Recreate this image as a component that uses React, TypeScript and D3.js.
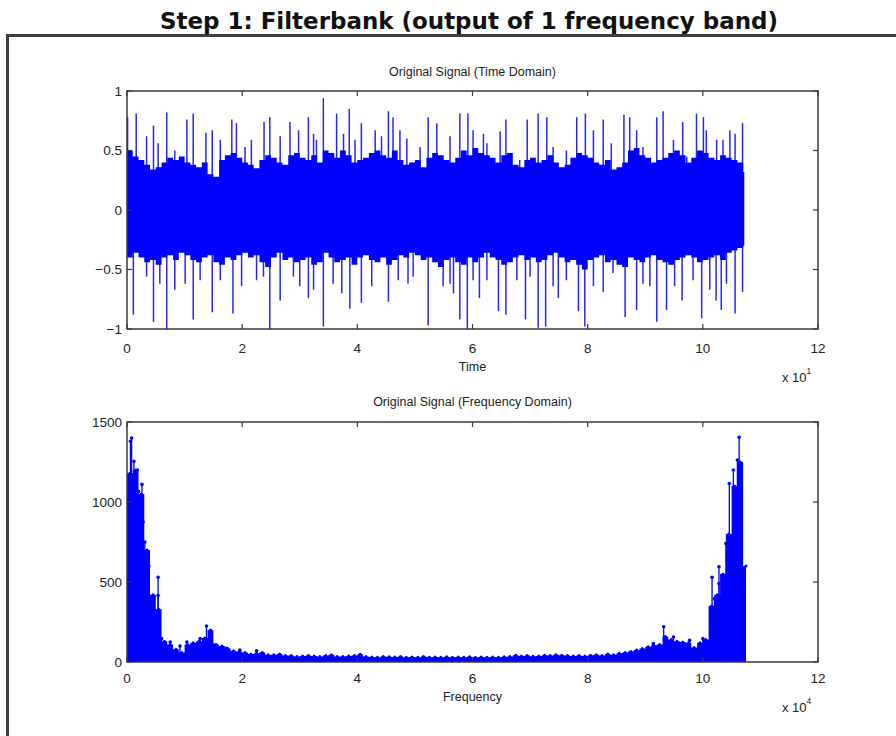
import React from "react";
import * as d3 from "d3";

// ---- Time-domain signal (x 10^1) ----
const timeStep = 0.1;
const timeEnd = 10.72;
// dense core of the waveform, per 0.1 time bin
const timeUpper = [
  0.5, 0.45, 0.42, 0.38, 0.34, 0.36, 0.4, 0.44, 0.42, 0.45,
  0.4, 0.38, 0.36, 0.4, 0.3, 0.28, 0.42, 0.46, 0.48, 0.44,
  0.4, 0.38, 0.35, 0.42, 0.46, 0.44, 0.4, 0.38, 0.46, 0.48,
  0.44, 0.42, 0.46, 0.4, 0.5, 0.48, 0.44, 0.5, 0.46, 0.4,
  0.42, 0.44, 0.48, 0.5, 0.46, 0.44, 0.5, 0.42, 0.38, 0.4,
  0.42, 0.36, 0.44, 0.48, 0.46, 0.42, 0.4, 0.44, 0.5, 0.46,
  0.52, 0.48, 0.46, 0.44, 0.4, 0.46, 0.48, 0.38, 0.36, 0.42,
  0.44, 0.4, 0.42, 0.46, 0.4, 0.36, 0.38, 0.44, 0.48, 0.46,
  0.44, 0.4, 0.38, 0.42, 0.34, 0.36, 0.4, 0.5, 0.52, 0.46,
  0.44, 0.4, 0.42, 0.44, 0.48, 0.5, 0.46, 0.4, 0.44, 0.5,
  0.48, 0.44, 0.42, 0.46, 0.44, 0.42, 0.4, 0.32,
];
const timeLower = [
  -0.4, -0.36, -0.4, -0.44, -0.42, -0.46, -0.4, -0.38, -0.42, -0.36,
  -0.38, -0.42, -0.44, -0.4, -0.38, -0.44, -0.46, -0.4, -0.42, -0.38,
  -0.36, -0.4, -0.38, -0.44, -0.48, -0.4, -0.36, -0.42, -0.4, -0.44,
  -0.42, -0.4, -0.46, -0.44, -0.36, -0.4, -0.44, -0.42, -0.4, -0.46,
  -0.4, -0.38, -0.42, -0.44, -0.4, -0.46, -0.42, -0.38, -0.4, -0.36,
  -0.38, -0.42, -0.4, -0.44, -0.48, -0.42, -0.4, -0.44, -0.46, -0.4,
  -0.44, -0.4, -0.36, -0.4, -0.42, -0.46, -0.44, -0.4, -0.38, -0.42,
  -0.4, -0.44, -0.42, -0.38, -0.36, -0.4, -0.44, -0.42, -0.46, -0.5,
  -0.42, -0.4, -0.38, -0.44, -0.42, -0.46, -0.48, -0.4, -0.42, -0.44,
  -0.4, -0.38, -0.42, -0.44, -0.46, -0.42, -0.4, -0.38, -0.4, -0.44,
  -0.42, -0.4, -0.38, -0.42, -0.36, -0.34, -0.32, -0.3,
];
// individual excursions beyond the core: [time, amplitude]
const spikesUp: [number, number][] = [
  [0.01, 0.78], [0.16, 0.81], [0.34, 0.62], [0.46, 0.71], [0.54, 0.56], [0.69, 0.82],
  [0.83, 0.5], [1.04, 0.76], [1.15, 0.81], [1.37, 0.65], [1.48, 0.67], [1.62, 0.59],
  [1.82, 0.76], [1.9, 0.73], [2.05, 0.53], [2.16, 0.59], [2.38, 0.74], [2.48, 0.78],
  [2.66, 0.62], [2.83, 0.74], [2.98, 0.67], [3.15, 0.78], [3.24, 0.64], [3.29, 0.59],
  [3.41, 0.94], [3.64, 0.81], [3.76, 0.64], [3.86, 0.85], [3.96, 0.59], [4.07, 0.73],
  [4.31, 0.67], [4.42, 0.62], [4.54, 0.83], [4.62, 0.78], [4.74, 0.67], [4.86, 0.6],
  [5.09, 0.53], [5.23, 0.78], [5.38, 0.73], [5.61, 0.62], [5.78, 0.81], [5.92, 0.81],
  [6.01, 0.67], [6.19, 0.64], [6.25, 0.56], [6.48, 0.66], [6.58, 0.76], [6.82, 0.42],
  [6.95, 0.76], [7.14, 0.81], [7.29, 0.78], [7.4, 0.53], [7.63, 0.5], [7.81, 0.78],
  [7.96, 0.81], [8.1, 0.67], [8.27, 0.76], [8.41, 0.56], [8.63, 0.8], [8.73, 0.78],
  [8.85, 0.67], [8.96, 0.53], [9.2, 0.78], [9.31, 0.83], [9.49, 0.59], [9.65, 0.74],
  [9.72, 0.45], [9.89, 0.81], [10.01, 0.78], [10.06, 0.67], [10.24, 0.59], [10.35, 0.59],
  [10.47, 0.67], [10.56, 0.64], [10.69, 0.73],
];
const spikesDown: [number, number][] = [
  [0.11, -0.88], [0.34, -0.56], [0.46, -0.94], [0.57, -0.62], [0.69, -1.0], [0.83, -0.67],
  [1.01, -0.62], [1.15, -0.92], [1.27, -0.59], [1.48, -0.86], [1.62, -0.59], [1.84, -0.87],
  [1.99, -0.64], [2.25, -0.59], [2.37, -0.56], [2.48, -1.0], [2.66, -0.76], [2.89, -0.56],
  [3.0, -0.64], [3.15, -0.74], [3.24, -0.67], [3.41, -0.98], [3.58, -0.62], [3.73, -0.7],
  [3.87, -0.83], [4.07, -0.78], [4.25, -0.64], [4.54, -0.77], [4.71, -0.59], [4.88, -0.62],
  [4.97, -0.56], [5.23, -0.97], [5.49, -0.64], [5.61, -0.62], [5.67, -0.7], [5.78, -0.92],
  [5.91, -1.0], [6.01, -0.59], [6.12, -0.74], [6.25, -0.59], [6.45, -0.85], [6.58, -0.88],
  [6.77, -0.59], [6.92, -0.92], [7.0, -0.56], [7.14, -0.99], [7.27, -0.98], [7.4, -0.64],
  [7.49, -0.74], [7.63, -0.59], [7.84, -0.85], [7.95, -0.98], [8.1, -0.64], [8.27, -0.69],
  [8.44, -0.53], [8.65, -0.9], [8.85, -0.84], [8.96, -0.62], [9.08, -0.64], [9.2, -0.94],
  [9.37, -0.84], [9.51, -0.64], [9.64, -0.76], [9.83, -0.59], [9.98, -0.91], [10.12, -0.67],
  [10.23, -0.76], [10.32, -0.84], [10.41, -0.62], [10.56, -0.87], [10.69, -0.69],
];

// ---- Spectrum magnitude (x 10^4) ----
const freqStep = 0.1;
const freqEnd = 10.75;
const freqCore = [
  1180, 1200, 1050, 700, 420, 330, 130, 110, 80, 60,
  110, 120, 130, 150, 200, 110, 100, 85, 70, 65,
  60, 50, 55, 60, 45, 45, 50, 40, 40, 35,
  38, 40, 38, 35, 40, 45, 35, 35, 38, 40,
  48, 35, 32, 30, 35, 33, 32, 35, 30, 32,
  30, 34, 30, 32, 30, 33, 30, 32, 30, 33,
  30, 32, 30, 32, 30, 33, 35, 42, 38, 40,
  36, 38, 42, 40, 45, 42, 40, 38, 40, 38,
  42, 45, 40, 50, 45, 55, 60, 65, 75, 85,
  95, 105, 110, 160, 140, 130, 125, 120, 90, 120,
  140, 350, 420, 550, 800, 1100, 1250, 600,
];
const freqPeaks: [number, number][] = [
  [0.06, 1380], [0.08, 1400], [0.12, 1255], [0.18, 1200], [0.2, 1065], [0.26, 1110],
  [0.28, 875], [0.31, 750], [0.37, 645], [0.38, 600], [0.46, 345], [0.54, 415],
  [0.54, 530], [0.6, 146], [0.75, 125], [0.92, 100], [1.04, 125], [1.27, 146],
  [1.38, 225], [1.5, 108], [1.73, 85], [1.96, 75], [2.25, 70], [9.14, 115],
  [9.32, 220], [9.49, 156], [9.77, 135], [10.0, 146], [10.16, 530], [10.2, 396],
  [10.28, 490], [10.28, 595], [10.4, 741], [10.46, 1115], [10.53, 1200], [10.6, 1262],
  [10.63, 1405], [10.67, 1050], [10.71, 490],
];

const xTicks = [0, 2, 4, 6, 8, 10, 12];
const timeYTicks = [-1, -0.5, 0, 0.5, 1];
const timeYLabels = ["\u22121", "\u22120.5", "0", "0.5", "1"];
const freqYTicks = [0, 500, 1000, 1500];

const BLUE = "#0000ff";
const AXIS = "#3a3a3a";
const LABEL_FONT = "'Liberation Sans', Arial, sans-serif";

const left = 127;
const right = 818;

function Axes({
  top, bottom, yScale, yTicks, yLabels, title, xLabel, exponent, titleY, xLabelY, tickY, expY,
}: any) {
  const x = d3.scaleLinear().domain([0, 12]).range([left, right]);
  return (
    <g>
      <rect x={left} y={top} width={right - left} height={bottom - top} fill="none" stroke={AXIS} strokeWidth={1.5} />
      {xTicks.map((t) => (
        <g key={"x" + t}>
          <line x1={x(t)} x2={x(t)} y1={bottom} y2={bottom - 5} stroke={AXIS} strokeWidth={1.2} />
          <line x1={x(t)} x2={x(t)} y1={top} y2={top + 5} stroke={AXIS} strokeWidth={1.2} />
          <text x={x(t)} y={tickY} textAnchor="middle" fontSize={13.5} fontFamily={LABEL_FONT} fill="#222">
            {t}
          </text>
        </g>
      ))}
      {yTicks.map((t: number, i: number) => (
        <g key={"y" + t}>
          <line x1={left} x2={left + 5} y1={yScale(t)} y2={yScale(t)} stroke={AXIS} strokeWidth={1.2} />
          <line x1={right} x2={right - 5} y1={yScale(t)} y2={yScale(t)} stroke={AXIS} strokeWidth={1.2} />
          <text x={left - 5} y={yScale(t) + 4.5} textAnchor="end" fontSize={13.5} fontFamily={LABEL_FONT} fill="#222">
            {yLabels[i]}
          </text>
        </g>
      ))}
      <text x={(left + right) / 2} y={titleY} textAnchor="middle" fontSize={12.5} fontFamily={LABEL_FONT} fill="#222">
        {title}
      </text>
      <text x={(left + right) / 2} y={xLabelY} textAnchor="middle" fontSize={12.5} fontFamily={LABEL_FONT} fill="#222">
        {xLabel}
      </text>
      <text x={782} y={expY} fontSize={13} fontFamily={LABEL_FONT} fill="#222">
        x 10
        <tspan dy={-8} fontSize={8.5}>{exponent}</tspan>
      </text>
    </g>
  );
}

export default function App() {
  const x = d3.scaleLinear().domain([0, 12]).range([left, right]);

  // time-domain panel
  const tTop = 91, tBottom = 329;
  const yT = d3.scaleLinear().domain([-1, 1]).range([tBottom, tTop]);
  const timeBins = timeUpper.map((u, i) => ({ t: i * timeStep, hi: u, lo: timeLower[i] }));
  timeBins.push({ t: timeEnd, hi: timeUpper[timeUpper.length - 1], lo: timeLower[timeLower.length - 1] });
  const timeArea = d3
    .area<{ t: number; hi: number; lo: number }>()
    .x((d) => x(d.t))
    .y0((d) => yT(d.lo))
    .y1((d) => yT(d.hi))
    .curve(d3.curveStepAfter);

  // frequency-domain panel
  const fTop = 422, fBottom = 662;
  const yF = d3.scaleLinear().domain([0, 1500]).range([fBottom, fTop]);
  const freqBins = freqCore.map((m, i) => ({ f: i * freqStep, m }));
  freqBins.push({ f: freqEnd, m: freqCore[freqCore.length - 1] });
  const freqArea = d3
    .area<{ f: number; m: number }>()
    .x((d) => x(d.f))
    .y0(yF(0))
    .y1((d) => yF(d.m))
    .curve(d3.curveStepAfter);

  return (
    <svg
      width={896}
      height={736}
      viewBox="0 0 896 736"
      style={{ position: "absolute", left: 0, top: 0, background: "#fff" }}
    >
      <rect x={0} y={0} width={896} height={736} fill="#fff" />
      <text
        x={469}
        y={29}
        textAnchor="middle"
        fontSize={23}
        fontWeight="bold"
        fontFamily="'DejaVu Sans', Verdana, sans-serif"
        textLength={618}
        lengthAdjust="spacingAndGlyphs"
        fill="#111"
      >
        Step 1: Filterbank (output of 1 frequency band)
      </text>
      <path d="M7.5 736 V35.5 H896" fill="none" stroke="#3d3d3d" strokeWidth={3} />

      {/* waveform */}
      <path d={timeArea(timeBins) || ""} fill={BLUE} />
      {spikesUp.concat(spikesDown).map(([t, v], i) => (
        <line key={"s" + i} x1={x(t)} x2={x(t)} y1={yT(0)} y2={yT(v)} stroke={BLUE} strokeOpacity={0.85} strokeWidth={1.5} />
      ))}
      <Axes
        top={tTop}
        bottom={tBottom}
        yScale={yT}
        yTicks={timeYTicks}
        yLabels={timeYLabels}
        title="Original Signal (Time Domain)"
        xLabel="Time"
        exponent="1"
        titleY={76}
        xLabelY={371}
        tickY={353}
        expY={382}
      />

      {/* spectrum */}
      <path d={freqArea(freqBins) || ""} fill={BLUE} />
      {freqCore.map((m, i) => (
        <circle key={"c" + i} cx={x(i * freqStep + freqStep / 2)} cy={yF(m)} r={1.5} fill={BLUE} />
      ))}
      {freqPeaks.map(([f, m], i) => (
        <g key={"p" + i}>
          <line x1={x(f)} x2={x(f)} y1={yF(0)} y2={yF(m)} stroke={BLUE} strokeWidth={1.3} />
          <circle cx={x(f)} cy={yF(m)} r={1.8} fill={BLUE} />
        </g>
      ))}
      <Axes
        top={fTop}
        bottom={fBottom}
        yScale={yF}
        yTicks={freqYTicks}
        yLabels={freqYTicks.map(String)}
        title="Original Signal (Frequency Domain)"
        xLabel="Frequency"
        exponent="4"
        titleY={406}
        xLabelY={701}
        tickY={683}
        expY={712}
      />
    </svg>
  );
}
